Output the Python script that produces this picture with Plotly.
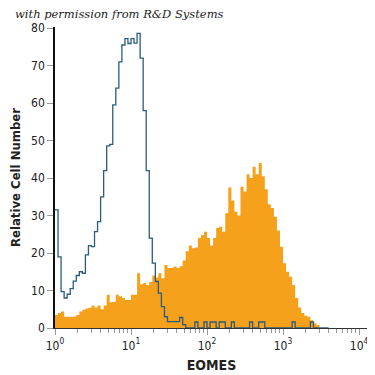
import plotly.graph_objects as go

# histogram bins: equal width in log10 space starting at 10^0
bin_width_log = 0.04

isotype_counts = [
    31.5, 19, 9.7, 8, 9, 10.5, 12.5, 14, 15, 14.6,
    19.5, 22, 21.7, 25.7, 28.4, 35, 42, 48.6, 49, 59.5,
    64, 71, 75.5, 77.2, 75.9, 77.2, 76, 78.6, 72, 58,
    42, 24, 17.3, 12.4, 9.3, 5.7, 3.0, 1.7, 1.7, 1.7,
    1.7, 2.8, 0.9, 0, 0, 0, 1.6, 0, 0, 1.6,
    0, 1.6, 1.6, 0, 1.6, 1.6, 0, 0, 1.6, 0,
    0, 0, 0, 0, 1.6, 0, 0, 1.6, 1.6, 0,
    0, 0, 0, 0, 0, 0, 0, 0, 1.6, 0,
    0, 0, 0, 0, 1.6, 0, 0, 0, 0, 0,
]

eomes_counts = [
    3.5, 4, 4.4, 3, 3, 3, 3, 3.5, 4.4, 4.9,
    5.2, 5.4, 6, 5.5, 6, 5, 6, 8.9, 6.9, 7,
    8.9, 8.5, 8, 7.5, 7.5, 8.9, 8.9, 14.6, 11.7, 12,
    11.5, 12.3, 14, 13.5, 14.6, 13.3, 16.8, 16, 16, 16.4,
    16, 16.5, 18, 20.5, 22, 21.3, 21.5, 24, 24.8, 25.7,
    24, 22, 24, 26.7, 27, 25.7, 30.6, 37.5, 34, 31,
    30, 37.7, 36.4, 41, 40, 43, 41, 44, 40.5, 37,
    33, 32, 29.7, 26, 21.7, 17.3, 15, 13.7, 11.5, 8,
    5.5, 4, 3.3, 3, 2.1, 1.3, 0.8, 0, 0, 0,
]

y_ticks = [0, 10, 20, 30, 40, 50, 60, 70, 80]
x_ticks = [1, 10, 100, 1000, 10000]
x_tick_text = ["10<sup>0</sup>", "10<sup>1</sup>", "10<sup>2</sup>", "10<sup>3</sup>", "10<sup>4</sup>"]

n = len(eomes_counts)
edges = [10 ** (i * bin_width_log) for i in range(n + 1)]

fig = go.Figure()
fig.add_trace(go.Scatter(
    x=edges, y=eomes_counts + [eomes_counts[-1]],
    mode="lines", line=dict(shape="hv", width=0, color="#F6A11C"),
    fill="tozeroy", fillcolor="#F6A11C", hoverinfo="skip", showlegend=False,
))
fig.add_trace(go.Scatter(
    x=edges, y=isotype_counts + [isotype_counts[-1]],
    mode="lines", line=dict(shape="hv", width=1.3, color="#2B5C7C"),
    hoverinfo="skip", showlegend=False,
))

minor_vals = [k * 10 ** p for p in range(4) for k in range(2, 10)]

cond = "DejaVu Sans Condensed, DejaVu Sans, sans-serif"

fig.update_layout(
    width=375, height=367,
    margin=dict(l=47, r=15, t=19, b=47),
    paper_bgcolor="white", plot_bgcolor="white",
    font=dict(family=cond, size=12, color="#222"),
    xaxis=dict(
        type="log", range=[0, 4.118], automargin=False,
        tickmode="array", tickvals=x_ticks, ticktext=x_tick_text,
        ticks="outside", ticklen=6, tickcolor="#999", tickwidth=1,
        showline=True, linecolor="#333", linewidth=1.2,
        showgrid=False, zeroline=False,
        minor=dict(tickmode="array", tickvals=minor_vals, ticks="outside",
                   ticklen=4, tickcolor="#999", tickwidth=1, showgrid=False),
        title=dict(text="<b>EOMES</b>", standoff=8,
                   font=dict(family=cond, size=14, color="#222")),
        tickfont=dict(family=cond, size=12),
    ),
    yaxis=dict(
        range=[0, 80.3], tickmode="array", tickvals=y_ticks, automargin=False,
        ticks="outside", ticklen=6, tickcolor="#999", tickwidth=1,
        showline=True, linecolor="#111", linewidth=1.5,
        showgrid=False, zeroline=False,
        title=dict(text="<b>Relative Cell Number</b>", standoff=10,
                   font=dict(family=cond, size=13, color="#222")),
        tickfont=dict(family=cond, size=12),
    ),
    annotations=[dict(
        text="<i>with permission from R&amp;D Systems</i>",
        xref="paper", yref="paper", x=-0.134, y=1.0, xanchor="left", yanchor="bottom",
        yshift=4, showarrow=False,
        font=dict(family="DejaVu Serif, Liberation Serif, serif", size=11.5, color="#222"),
    )],
)

fig.write_html("out.html")
